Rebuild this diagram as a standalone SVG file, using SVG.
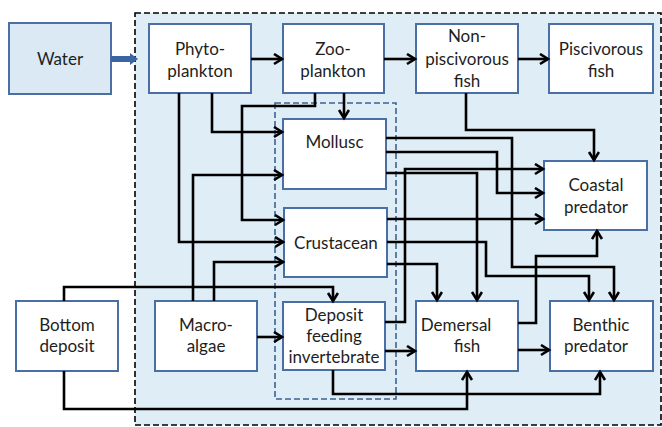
<svg xmlns="http://www.w3.org/2000/svg" width="662" height="427" viewBox="0 0 662 427">
<style>
.box{stroke:#4a6fa5;stroke-width:2;fill:#ffffff}
.lbl{font-family:Lato,"Open Sans","Liberation Sans",sans-serif;font-size:17px;fill:#1e1e1e;text-anchor:middle}
.con path{fill:none;stroke:#000;stroke-width:2.6;marker-end:url(#ah)}
</style>
<defs>
<marker id="ah" markerUnits="userSpaceOnUse" markerWidth="14" markerHeight="14" refX="10" refY="6" orient="auto">
<path d="M2,1 L10,6 L2,11" fill="none" stroke="#000" stroke-width="2.6"/>
</marker>
</defs>
<rect width="662" height="427" fill="#ffffff"/>
<rect x="135" y="13" width="526" height="412" fill="#deedf6" stroke="#000" stroke-width="1.6" stroke-dasharray="6,3"/>
<rect x="275" y="103" width="121" height="296" fill="none" stroke="#3e6290" stroke-width="1.6" stroke-dasharray="6,3"/>

<g id="water"><rect class="box" x="9" y="23" width="102" height="71" style="fill:#dbe9f4"/><text class="lbl" x="60" y="65">Water</text></g>
<g id="phytoplankton"><rect class="box" x="149" y="24" width="102" height="69"/><text class="lbl" x="200" y="55">Phyto-</text><text class="lbl" x="200" y="77">plankton</text></g>
<g id="zooplankton"><rect class="box" x="283" y="24" width="101" height="69"/><text class="lbl" x="333" y="55">Zoo-</text><text class="lbl" x="333" y="77">plankton</text></g>
<g id="nonpiscivorous"><rect class="box" x="416" y="24" width="102" height="69"/><text class="lbl" x="467" y="42">Non-</text><text class="lbl" x="467" y="64.5">piscivorous</text><text class="lbl" x="467" y="87">fish</text></g>
<g id="piscivorous"><rect class="box" x="549" y="24" width="104" height="69"/><text class="lbl" x="601" y="55">Piscivorous</text><text class="lbl" x="601" y="77">fish</text></g>
<g id="mollusc"><rect class="box" x="283" y="119" width="103" height="70"/><text class="lbl" x="334.5" y="148">Mollusc</text></g>
<g id="crustacean"><rect class="box" x="284" y="208" width="103" height="69"/><text class="lbl" x="336" y="249">Crustacean</text></g>
<g id="deposit-feeding"><rect class="box" x="283" y="302" width="102" height="68"/><text class="lbl" x="334" y="321">Deposit</text><text class="lbl" x="334" y="342">feeding</text><text class="lbl" x="334" y="363">invertebrate</text></g>
<g id="macroalgae"><rect class="box" x="155" y="301" width="102" height="70"/><text class="lbl" x="206" y="331">Macro-</text><text class="lbl" x="206" y="352">algae</text></g>
<g id="bottom-deposit"><rect class="box" x="16" y="301" width="102" height="70"/><text class="lbl" x="67" y="331">Bottom</text><text class="lbl" x="67" y="352">deposit</text></g>
<g id="demersal"><rect class="box" x="416" y="301" width="102" height="70"/><text class="lbl" x="456" y="331">Demersal</text><text class="lbl" x="467" y="352">fish</text></g>
<g id="benthic"><rect class="box" x="550" y="301" width="103" height="70"/><text class="lbl" x="601" y="331">Benthic</text><text class="lbl" x="596" y="352">predator</text></g>
<g id="coastal"><rect class="box" x="544" y="161" width="103" height="69"/><text class="lbl" x="596" y="191">Coastal</text><text class="lbl" x="596" y="213">predator</text></g>

<g id="connectors" class="con">
<line x1="111" y1="59" x2="131" y2="59" stroke="#3b64a3" stroke-width="6"/>
<polygon points="130,53 138,59 130,65" fill="#3b64a3"/>
<path d="M251,59 H282"/>
<path d="M384,59 H415"/>
<path d="M518,59 H548"/>
<path d="M344,93 V118"/>
<path d="M315,93 V106 H242 V220 H283"/>
<path d="M212,93 V132 H282"/>
<path d="M179,93 V242 H283"/>
<path d="M193,301 V175 H282"/>
<path d="M214,301 V262 H283"/>
<path d="M257,337 H282"/>
<path d="M64,301 V287 H333 V301"/>
<path d="M64,371 V409 H467 V372"/>
<path d="M333,370 V394 H600 V372"/>
<path d="M385,351 H415"/>
<path d="M385,322 H405 V169 H543"/>
<path d="M386,138 H512 V267 H614 V300"/>
<path d="M386,152 H497 V193 H543"/>
<path d="M386,173 H477 V300"/>
<path d="M466,93 V130 H594 V160"/>
<path d="M387,219 H543"/>
<path d="M387,242 H486 V276 H589 V300"/>
<path d="M387,264 H437 V300"/>
<path d="M518,323 H536 V256 H597 V231"/>
<path d="M518,350 H549"/>
</g>
</svg>
